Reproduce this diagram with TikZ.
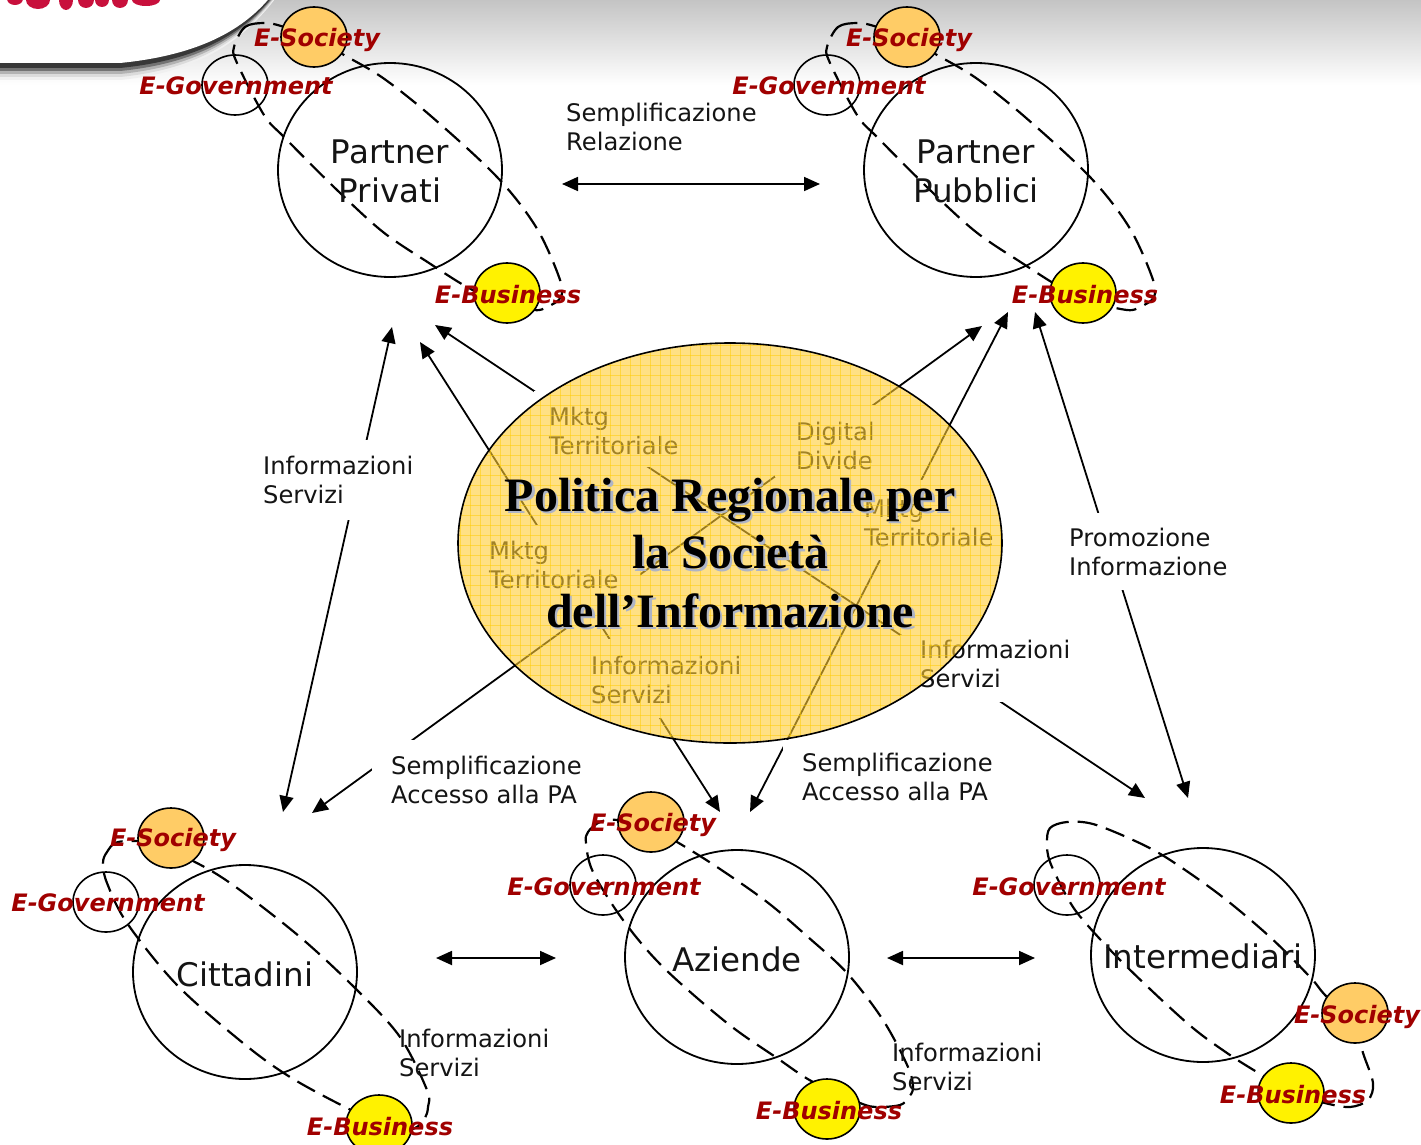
\documentclass[tikz,border=0pt]{standalone}
\usepackage{fontspec}
\setmainfont{DejaVu Sans}
\newfontfamily\titlefont{Liberation Serif}
\usetikzlibrary{arrows.meta,shapes.geometric}
\definecolor{redlab}{HTML}{A00000}
\definecolor{orangeb}{HTML}{FFCC66}
\definecolor{ovalfill}{HTML}{FFCC33}
\definecolor{gridc}{HTML}{FFCC00}
\definecolor{shadowc}{HTML}{AEB4C6}
\definecolor{logored}{HTML}{C8103C}
\tikzset{
  lbl/.style={anchor=base west,inner sep=0pt,align=left,text=black!92,font=\fontsize{24.2}{28.7}\selectfont},
  biglbl/.style={inner sep=0pt,align=center,text=black!92,font=\fontsize{32.5}{39}\selectfont},
  redtxt/.style={anchor=base,inner sep=0pt,text=redlab,font=\fontsize{24}{28}\selectfont\bfseries\itshape},
  bigcirc/.style={ellipse,draw=black,line width=1.8pt,minimum width=224pt,minimum height=214pt,inner sep=0pt},
  socc/.style={ellipse,draw=black,line width=1.6pt,fill=orangeb,minimum width=66pt,minimum height=60pt,inner sep=0pt},
  busc/.style={ellipse,draw=black,line width=1.6pt,fill=yellow,minimum width=66pt,minimum height=60pt,inner sep=0pt},
  govc/.style={ellipse,draw=black,line width=1.6pt,minimum width=66pt,minimum height=60pt,inner sep=0pt},
  orbitline/.style={draw=black,line width=2.2pt,dash pattern=on 20pt off 9pt},
  flow/.style={draw=black,line width=1.8pt,{Triangle[length=16pt,width=14pt]}-{Triangle[length=16pt,width=14pt]}},
  titletxt/.style={anchor=base,inner sep=0pt,font=\fontsize{48}{58}\selectfont\titlefont\bfseries},
}
\newcommand{\orbitOne}{(234,47) (245,27) (264,23) (281,26) (314,38) (344,55) (383,78) (432,117) (497,177) (536,227) (559,277) (561,297) (547,307) (534,310) (500,302) (467,287) (429,263) (383,232) (337,190) (285,138) (264,115) (237,63)}
\begin{document}
\begin{tikzpicture}[x=1pt,y=-1pt]
\useasboundingbox (0,0) rectangle (1421,1145);
\fill[white] (0,0) rectangle (1421,1145);
% header
\shade[top color=black!23,bottom color=white] (0,0) rectangle (1421,85);
\foreach \d/\c in {17/6,14/14,11/30,8/55,5/78} {
  \fill[black!\c] (-5,-5) -- (-5,63+\d) -- (120,63+\d) .. controls (190,{56+\d}) and (240,{35+\d*.7}) .. ({272+\d*.35},-5) -- cycle;
}
\fill[white] (-5,-5) -- (-5,63) -- (120,63) .. controls (190,56) and (240,35) .. (272,-5) -- cycle;
\fill[logored] (15,-1) ellipse [x radius=8pt,y radius=6pt] (38,0) ellipse [x radius=12pt,y radius=9pt] (66,0) ellipse [x radius=7pt,y radius=10pt] (86,0) ellipse [x radius=8pt,y radius=8pt] (102,0) ellipse [x radius=7pt,y radius=7pt] (120,0) ellipse [x radius=8pt,y radius=8pt] (146,0) ellipse [x radius=14pt,y radius=6pt];
% orbits
\begin{scope}\draw[orbitline] plot[smooth cycle,tension=.55] coordinates {\orbitOne};\end{scope}
\begin{scope}[shift={(593,0)}]\draw[orbitline] plot[smooth cycle,tension=.55] coordinates {\orbitOne};\end{scope}
\draw[orbitline] plot[smooth cycle,tension=.55] coordinates {(103,863) (107,852) (118,842) (150,843) (193,861) (233,885) (300,937) (357,990) (400,1037) (427,1090) (428,1107) (425,1118) (415,1128) (395,1130) (347,1108) (290,1077) (243,1043) (177,985) (127,923) (107,883)};
\draw[orbitline] plot[smooth cycle,tension=.55] coordinates {(586,843) (588,832) (600,822) (617,820) (650,828) (677,842) (717,867) (767,902) (808,937) (847,973) (883,1020) (908,1067) (913,1088) (908,1098) (900,1105) (877,1107) (860,1103) (813,1082) (777,1058) (727,1023) (663,967) (623,920) (593,872)};
\draw[orbitline] plot[smooth cycle,tension=.55] coordinates {(1047,843) (1050,828) (1067,822) (1093,824) (1133,840) (1167,858) (1220,895) (1270,937) (1310,977) (1325,995) (1355,1025) (1363,1053) (1373,1083) (1368,1100) (1350,1107) (1325,1103) (1295,1093) (1262,1075) (1227,1053) (1187,1023) (1123,963) (1083,920) (1067,897) (1050,862)};
% circles
\node[bigcirc] (privati) at (390,170) {};
\node[socc] (socA) at (314,37) {};
\node[govc] (govA) at (235,85) {};
\node[busc] (busA) at (507,293) {};
\node[bigcirc] (pubblici) at (976,170) {};
\node[socc] (socB) at (907,37) {};
\node[govc] (govB) at (827,85) {};
\node[busc] (busB) at (1083,293) {};
\node[bigcirc] (cittadini) at (245,972) {};
\node[socc] (socC) at (171,838) {};
\node[govc] (govC) at (106,902) {};
\node[busc] (busC) at (379,1125) {};
\node[bigcirc] (aziende) at (737,957) {};
\node[socc] (socD) at (651,822) {};
\node[govc] (govD) at (603,885) {};
\node[busc] (busD) at (827,1109) {};
\node[bigcirc] (interm) at (1203,955) {};
\node[socc] (socE) at (1355,1013) {};
\node[govc] (govE) at (1067,885) {};
\node[busc] (busE) at (1291,1093) {};
% centre texts of circles
\node[biglbl] (tA) at (390,171) {Partner\\Privati};
\node[biglbl] (tB) at (976,171) {Partner\\Pubblici};
\node[biglbl] (tC) at (245,974) {Cittadini};
\node[biglbl] (tD) at (737,959) {Aziende};
\node[biglbl] (tE) at (1203,956) {Intermediari};
% red labels
\node[redtxt] (lA1) at (317,47) {E-Society};
\node[redtxt] (lA2) at (236,95) {E-Government};
\node[redtxt] (lA3) at (508,303) {E-Business};
\node[redtxt] (lB1) at (909,47) {E-Society};
\node[redtxt] (lB2) at (829,95) {E-Government};
\node[redtxt] (lB3) at (1085,303) {E-Business};
\node[redtxt] (lC1) at (173,846) {E-Society};
\node[redtxt] (lC2) at (108,911) {E-Government};
\node[redtxt] (lC3) at (380,1135) {E-Business};
\node[redtxt] (lD1) at (653,831) {E-Society};
\node[redtxt] (lD2) at (604,895) {E-Government};
\node[redtxt] (lD3) at (829,1119) {E-Business};
\node[redtxt] (lE1) at (1357,1023) {E-Society};
\node[redtxt] (lE2) at (1069,895) {E-Government};
\node[redtxt] (lE3) at (1293,1103) {E-Business};
% arrow ends
\coordinate (p1) at (435,325); \coordinate (q1) at (1145,798);
\coordinate (p2) at (420,342); \coordinate (q2) at (720,812);
\coordinate (p3) at (982,326); \coordinate (q3) at (312,813);
\coordinate (p4) at (1008,312); \coordinate (q4) at (750,812);
\coordinate (p5) at (392,327); \coordinate (q5) at (283,812);
\coordinate (p6) at (1035,312); \coordinate (q6) at (1188,798);
\coordinate (p7) at (562,184); \coordinate (q7) at (820,184);
\coordinate (p8) at (436,958); \coordinate (q8) at (556,958);
\coordinate (p9) at (887,958); \coordinate (q9) at (1035,958);
\foreach \i in {1,...,9} {\draw[flow] (p\i) -- (q\i);}
% white label boxes
\fill[white] (534,391) rectangle (700,467);
\fill[white] (775,405) rectangle (915,477);
\fill[white] (860,480) rectangle (1000,560);
\fill[white] (474,525) rectangle (640,628);
\fill[white] (575,639) rectangle (770,718);
\fill[white] (900,635) rectangle (1095,702);
\fill[white] (245,440) rectangle (435,520);
\fill[white] (1055,513) rectangle (1240,590);
\fill[white] (372,740) rectangle (590,815);
\fill[white] (783,740) rectangle (1000,812);
% labels
\node[lbl] (n1) at (566,150) {Semplificazione\\Relazione};
\node[lbl] (n2) at (263,503) {Informazioni\\Servizi};
\node[lbl] (n3) at (549,454) {Mktg\\Territoriale};
\node[lbl] (n4) at (796,469) {Digital\\Divide};
\node[lbl] (n5) at (864,546) {Mktg\\Territoriale};
\node[lbl] (n6) at (489,588) {Mktg\\Territoriale};
\node[lbl] (n7) at (591,703) {Informazioni\\Servizi};
\node[lbl] (n8) at (920,687) {Informazioni\\Servizi};
\node[lbl] (n9) at (1069,575) {Promozione\\Informazione};
\node[lbl] (n10) at (391,803) {Semplificazione\\Accesso alla PA};
\node[lbl] (n11) at (802,800) {Semplificazione\\Accesso alla PA};
\node[lbl] (n12) at (399,1076) {Informazioni\\Servizi};
\node[lbl] (n13) at (892,1090) {Informazioni\\Servizi};
% central ellipse
\fill[ovalfill,fill opacity=.6] (730,543) ellipse [x radius=272pt,y radius=200pt];
\begin{scope}
\clip (730,543) ellipse [x radius=272pt,y radius=200pt];
\foreach \gx in {460,470,...,1000} {\draw[gridc,opacity=.5,line width=.8pt] (\gx,340) -- (\gx,750);}
\foreach \gy in {345,355,...,745} {\draw[gridc,opacity=.5,line width=.8pt] (455,\gy) -- (1005,\gy);}
\end{scope}
\node[ellipse,draw=black,line width=1.6pt,minimum width=544pt,minimum height=400pt,inner sep=0pt] (centre) at (730,543) {};
% title
\foreach \ty/\tt in {511/Politica Regionale per,568.5/la Società,627/dell’Informazione} {
  \node[titletxt,text=shadowc] at (732.5,\ty+2.5) {\tt};
  \node[titletxt,text=black] at (730,\ty) {\tt};
}
\end{tikzpicture}
\end{document}
